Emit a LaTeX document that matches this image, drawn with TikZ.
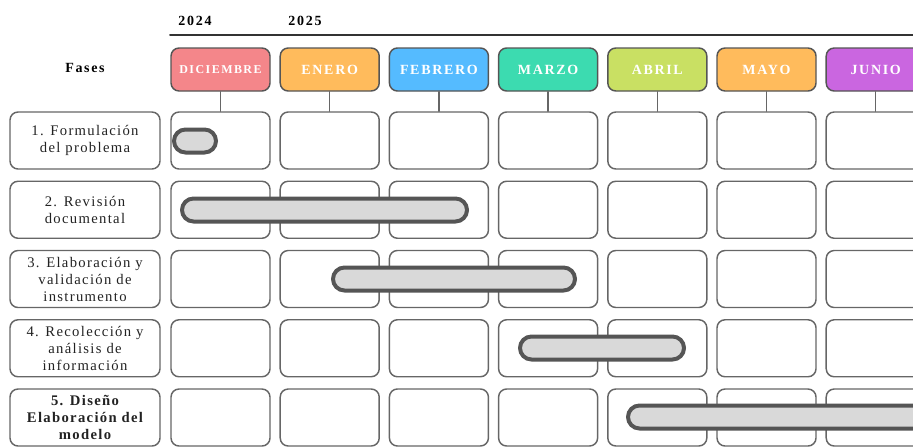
\documentclass[tikz,border=0pt]{standalone}
\usepackage{fontspec}
\setmainfont{Liberation Serif}
\newfontfamily\spacedfont[LetterSpace=12]{Liberation Serif}
\newfontfamily\fasefont[LetterSpace=9]{Liberation Serif}
\usetikzlibrary{positioning}
\definecolor{borde}{HTML}{666666}
\definecolor{texto}{HTML}{222222}
\definecolor{barborde}{HTML}{555555}
\definecolor{barfondo}{HTML}{D9D9D9}
\definecolor{cdic}{HTML}{F4868A}
\definecolor{cene}{HTML}{FFBB5C}
\definecolor{cfeb}{HTML}{55BBFF}
\definecolor{cmar}{HTML}{3CDBB0}
\definecolor{cabr}{HTML}{C9E063}
\definecolor{cmay}{HTML}{FFBB5C}
\definecolor{cjun}{HTML}{CA66E0}
\tikzset{
  every picture/.style={line join=round, line cap=round},
  mesbox/.style={draw=barborde, line width=1.1pt, rounded corners=6pt, minimum width=74.25pt, minimum height=32.25pt, inner sep=0pt, text=white},
  celda/.style={draw=borde, line width=1.1pt, rounded corners=6pt, minimum width=74.25pt, minimum height=42.75pt, inner sep=0pt},
  fase/.style={celda, minimum width=112.5pt, align=center, text=texto, font=\fasefont\fontsize{11}{12.75}\selectfont},
  fasebold/.style={fase, font=\fasefont\bfseries\fontsize{11}{12.75}\selectfont},
  titulo/.style={font=\spacedfont\bfseries\fontsize{10.5}{12}\selectfont, inner sep=0pt},
  barra/.style={draw=barborde, fill=barfondo, line width=3pt, rounded corners=8.6pt},
  enlace/.style={draw=borde, line width=1.1pt},
}

\begin{document}
\begin{tikzpicture}[x=0.75pt,y=-0.75pt]
\useasboundingbox (0,0) rectangle (913,447);
\clip (0,0) rectangle (913,447);
% years
\node[titulo] (a2024) at (195,21) {2024};
\node[titulo] (a2025) at (305,21) {2025};
\coordinate (lineaA) at (170,35);
\coordinate (lineaB) at (913,35);
\draw[line width=1.5pt, draw=black!80] (lineaA) -- (lineaB);
\node[titulo] (fases) at (85,68) {Fases};
% months and grid
\foreach \nom/\col/\tam [count=\i] in {DICIEMBRE/cdic/9, ENERO/cene/10.5, FEBRERO/cfeb/10.5, MARZO/cmar/10.5, ABRIL/cabr/10.5, MAYO/cmay/10.5, JUNIO/cjun/10.5} {
  \node[mesbox, fill=\col, font=\spacedfont\bfseries\fontsize{\tam}{12}\selectfont] (mes\i) at ({220.5+109.2*(\i-1)},69.5) {\nom};
  \foreach \r in {1,...,5}
    \node[celda] (c-\r-\i) at ({220.5+109.2*(\i-1)},{140.5+69.25*(\r-1)}) {};
  \draw[enlace] (mes\i) -- (c-1-\i);
}
% phases
\node[fase] (fase1) at (85,140.5) {1. Formulación\\del problema};
\node[fase] (fase2) at (85,209.75) {2. Revisión\\documental};
\node[fase] (fase3) at (85,279) {3. Elaboración y\\validación de\\instrumento};
\node[fase] (fase4) at (85,348.25) {4. Recolección y\\análisis de\\información};
\node[fasebold] (fase5) at (85,417.5) {5. Diseño\\Elaboración del\\modelo};
% bars
\draw[barra] (174,129.5) rectangle (216,152.5);
\draw[barra] (182,198.5) rectangle (467,221.5);
\draw[barra] (333,267.5) rectangle (575,290.5);
\draw[barra] (520,336.5) rectangle (684,359.5);
\draw[barra] (628,405.5) rectangle (960,428.5);
\end{tikzpicture}
\end{document}
